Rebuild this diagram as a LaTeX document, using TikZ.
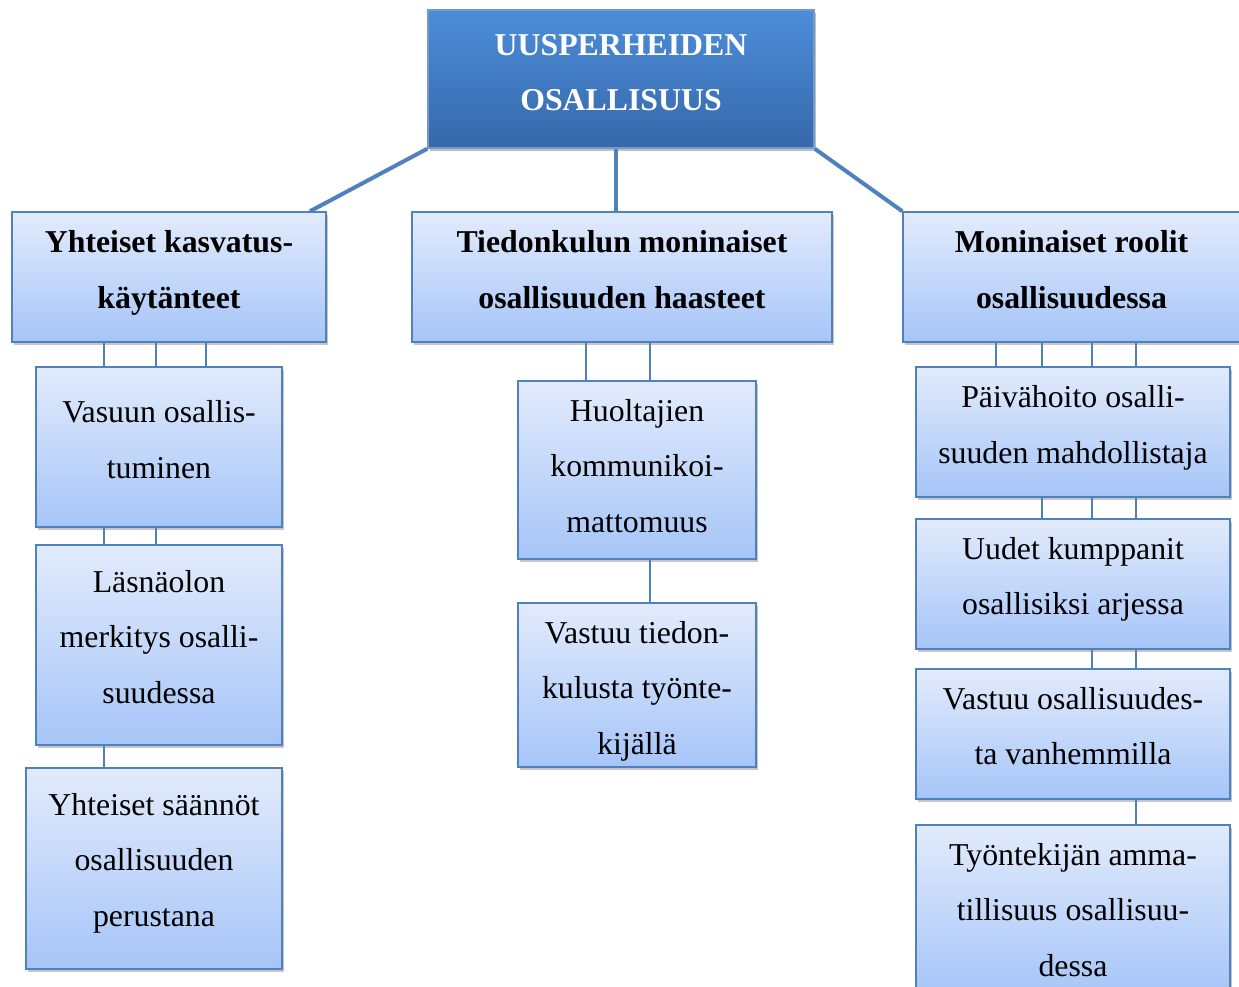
\documentclass[tikz,border=0pt]{standalone}
\usepackage{fontspec}
\setmainfont{Liberation Serif}
\usetikzlibrary{shadows}
\definecolor{lineblue}{RGB}{79,129,189}
\definecolor{boxtop}{RGB}{226,235,252}
\definecolor{boxbot}{RGB}{166,197,248}
\definecolor{toptop}{RGB}{76,141,217}
\definecolor{topbot}{RGB}{54,104,170}
\newcommand{\subfont}{\fontsize{31.8}{55.5}\selectfont}
\newcommand{\headfont}{\fontsize{31.8}{55.5}\selectfont\bfseries}
\newcommand{\tx}[2][1.7pt]{\smash{\raisebox{#1}{\begin{tabular}{@{}c@{}}#2\end{tabular}}}}
\tikzset{
  subbox/.style={draw=lineblue, line width=1.5pt, top color=boxtop, bottom color=boxbot,
    drop shadow={shadow xshift=2pt, shadow yshift=-3pt, opacity=0.45},
    font=\subfont, inner sep=0pt, text=black},
  headbox/.style={subbox, font=\headfont},
  rootbox/.style={draw=lineblue!80!white, line width=1.5pt, top color=toptop, bottom color=topbot,
    drop shadow={shadow xshift=2pt, shadow yshift=-3pt, opacity=0.5},
    font=\headfont, text=white, inner sep=0pt},
  thick link/.style={draw=lineblue, line width=4pt},
  thin link/.style={draw=lineblue, line width=2pt}
}
\begin{document}
\begin{tikzpicture}[x=1pt,y=-1pt]
\useasboundingbox (0,0) rectangle (1239,987);
\clip (0,0) rectangle (1239,987);
\node[rootbox, minimum width=386pt, minimum height=138pt] (T) at (621,79) {\tx[0.7pt]{UUSPERHEIDEN\\OSALLISUUS}};
\node[headbox, minimum width=314pt, minimum height=130pt] (L1) at (169,277) {\tx[1.2pt]{Yhteiset kasvatus-\\käytänteet}};
\node[headbox, minimum width=420pt, minimum height=130pt] (M1) at (622,277) {\tx[1.2pt]{Tiedonkulun moninaiset\\osallisuuden haasteet}};
\node[headbox, minimum width=337pt, minimum height=130pt] (R1) at (1071.5,277) {\tx[1.2pt]{Moninaiset roolit\\osallisuudessa}};
\node[subbox, minimum width=246pt, minimum height=160pt] (A) at (159,447) {\tx[1.2pt]{Vasuun osallis-\\tuminen}};
\node[subbox, minimum width=246pt, minimum height=200pt] (B) at (159,645) {\tx[2.2pt]{Läsnäolon\\merkitys osalli-\\suudessa}};
\node[subbox, minimum width=256pt, minimum height=201pt] (C) at (154,868.5) {\tx[2.7pt]{Yhteiset säännöt\\osallisuuden\\perustana}};
\node[subbox, minimum width=238pt, minimum height=178pt] (D) at (637,470) {\tx[-1.8pt]{Huoltajien\\kommunikoi-\\mattomuus}};
\node[subbox, minimum width=238pt, minimum height=164pt] (E) at (637,685) {\tx[-8.8pt]{Vastuu tiedon-\\kulusta työnte-\\kijällä}};
\node[subbox, minimum width=314pt, minimum height=130pt] (F) at (1073,432) {\tx[1.2pt]{Päivähoito osalli-\\suuden mahdollistaja}};
\node[subbox, minimum width=314pt, minimum height=130pt] (G) at (1073,584) {\tx{Uudet kumppanit\\osallisiksi arjessa}};
\node[subbox, minimum width=314pt, minimum height=130pt] (H) at (1073,734) {\tx{Vastuu osallisuudes-\\ta vanhemmilla}};
\node[subbox, minimum width=314pt, minimum height=170pt] (I) at (1073,910) {\tx[-5.8pt]{Työntekijän amma-\\tillisuus osallisuu-\\dessa}};
% root links
\draw[thick link] (T.south west) -- (L1.north -| 310,0);
\draw[thick link] (T.south -| 616,0) -- (M1.north -| 616,0);
\draw[thick link] (T.south east) -- (R1.north west);
% left column
\foreach \x in {104,156,206} \draw[thin link] (L1.south -| \x,0) -- (A.north -| \x,0);
\foreach \x in {104,156} \draw[thin link] (A.south -| \x,0) -- (B.north -| \x,0);
\draw[thin link] (B.south -| 104,0) -- (C.north -| 104,0);
% middle column
\foreach \x in {586,650} \draw[thin link] (M1.south -| \x,0) -- (D.north -| \x,0);
\draw[thin link] (D.south -| 650,0) -- (E.north -| 650,0);
% right column
\foreach \x in {996,1042,1092,1136} \draw[thin link] (R1.south -| \x,0) -- (F.north -| \x,0);
\foreach \x in {1042,1092,1136} \draw[thin link] (F.south -| \x,0) -- (G.north -| \x,0);
\foreach \x in {1092,1136} \draw[thin link] (G.south -| \x,0) -- (H.north -| \x,0);
\draw[thin link] (H.south -| 1136,0) -- (I.north -| 1136,0);
\end{tikzpicture}
\end{document}
